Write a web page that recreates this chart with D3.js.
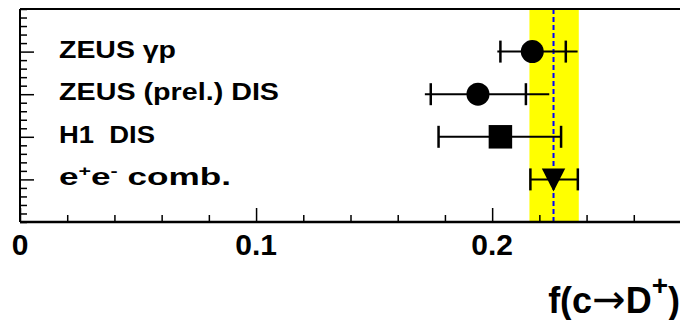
<!DOCTYPE html>
<html lang="en">
<head>
    <meta charset="utf-8">
    <title>f(c to D+) comparison</title>
    <script src="https://cdn.jsdelivr.net/npm/d3@7"></script>
    <style>
        body { margin: 0; background: #fff; }
        svg { display: block; }
        text { font-family: "Liberation Sans", Arial, sans-serif; font-weight: bold; fill: #000; white-space: pre; }
    </style>
</head>
<body>
<div id="chart"></div>
<script>
    // measurements, top to bottom
    var experiments = ["ZEUS γp", "ZEUS (prel.) DIS", "H1  DIS", "e+e- comb."];
    var rows = [4, 3, 2, 1];
    var central = [0.217, 0.194, 0.2035, 0.226];
    var statLo = [0.2035, 0.174, 0.1773, 0.2162];
    var statHi = [0.2312, 0.2143, 0.2292, 0.2363];
    var totLo = [0.2022, 0.1715, 0.1773, 0.2162];
    var totHi = [0.2362, 0.2242, 0.2292, 0.2363];
    var markers = ["circle", "circle", "square", "triangle"];
    // e+e- band
    var bandValue = 0.226;
    var bandLo = 0.2158;
    var bandHi = 0.2367;
    var xTicks = [0, 0.1, 0.2];

    var width = 680, height = 320;
    var padL = 20, padT = 9, padB = 222, padR = 681;

    var svg = d3.select("#chart").append("svg")
        .attr("width", width)
        .attr("height", height);

    var x = d3.scaleLinear().domain([0, 0.28]).range([padL, padR]);
    var y = d3.scaleLinear().domain([0, 5]).range([padB, padT]);

    // yellow band + dashed central line
    svg.append("rect")
        .attr("x", x(bandLo))
        .attr("y", y(5))
        .attr("width", x(bandHi) - x(bandLo))
        .attr("height", y(0) - y(5))
        .attr("fill", "#ffff00");
    svg.append("line")
        .attr("x1", x(bandValue)).attr("x2", x(bandValue))
        .attr("y1", y(5)).attr("y2", y(0))
        .attr("stroke", "#0000ff")
        .attr("stroke-width", 2)
        .attr("stroke-dasharray", "5,3");

    // frame lines
    svg.append("line")
        .attr("x1", padL).attr("x2", width)
        .attr("y1", padT).attr("y2", padT)
        .attr("stroke", "#000").attr("stroke-width", 2);
    svg.append("line")
        .attr("x1", padL).attr("x2", padL)
        .attr("y1", padT).attr("y2", padB)
        .attr("stroke", "#000").attr("stroke-width", 2);

    // x axis, ticks pointing up
    var xAxis = svg.append("g")
        .attr("transform", "translate(0," + padB + ")")
        .call(d3.axisTop(x).ticks(14).tickSize(7).tickFormat(""));
    xAxis.select(".domain").remove();
    xAxis.append("line")
        .attr("x1", padL).attr("x2", width)
        .attr("stroke", "#000").attr("stroke-width", 2.5);
    xAxis.selectAll(".tick line").attr("stroke-width", 1.5);
    xAxis.selectAll(".tick")
        .filter(function(d) { return xTicks.some(function(t) { return Math.abs(t - d) < 1e-9; }); })
        .select("line").attr("y2", -14);
    svg.selectAll("text.xlab")
        .data(xTicks)
        .enter().append("text")
        .attr("class", "xlab")
        .attr("x", function(d) { return x(d); })
        .attr("y", 255)
        .attr("text-anchor", "middle")
        .style("font-size", "30px")
        .text(function(d) { return d === 0 ? "0" : d3.format(".1f")(d); });

    // y axis, ticks pointing right
    var yAxis = svg.append("g")
        .attr("transform", "translate(" + padL + ",0)")
        .call(d3.axisRight(y).ticks(25).tickSize(7).tickFormat(""));
    yAxis.select(".domain").remove();
    yAxis.selectAll(".tick line").attr("stroke-width", 1.5);
    yAxis.selectAll(".tick")
        .filter(function(d) { return rows.indexOf(Math.round(d * 1000) / 1000) > -1; })
        .select("line").attr("x2", 14);

    // labels
    var labelLen = [117, 220, 96, 172];
    var labels = svg.selectAll("text.lab")
        .data(experiments)
        .enter().append("text")
        .attr("class", "lab")
        .attr("x", 59)
        .attr("y", function(d, i) { return y(rows[i]) + 6; })
        .attr("textLength", function(d, i) { return labelLen[i]; })
        .attr("lengthAdjust", "spacingAndGlyphs")
        .style("font-size", "23px");
    labels.each(function(d, i) {
        var t = d3.select(this);
        if (i === 3) {
            t.append("tspan").text("e");
            t.append("tspan").attr("dy", -9).style("font-size", "14px").text("+");
            t.append("tspan").attr("dy", 9).text("e");
            t.append("tspan").attr("dy", -9).style("font-size", "14px").text("-");
            t.append("tspan").attr("dy", 9).text(" comb.");
        } else {
            t.text(d);
        }
    });

    // error bars
    var cap = 11;
    var bars = svg.selectAll("g.bar")
        .data(experiments)
        .enter().append("g")
        .attr("class", "bar");
    bars.append("line")
        .attr("x1", function(d, i) { return x(totLo[i]); })
        .attr("x2", function(d, i) { return x(totHi[i]); })
        .attr("y1", function(d, i) { return y(rows[i]); })
        .attr("y2", function(d, i) { return y(rows[i]); })
        .attr("stroke", "#000").attr("stroke-width", 2);
    [statLo, statHi].forEach(function(arr) {
        bars.append("line")
            .attr("x1", function(d, i) { return x(arr[i]); })
            .attr("x2", function(d, i) { return x(arr[i]); })
            .attr("y1", function(d, i) { return y(rows[i]) - cap; })
            .attr("y2", function(d, i) { return y(rows[i]) + cap; })
            .attr("stroke", "#000").attr("stroke-width", 2.5);
    });

    // markers
    var sym = {
        circle: d3.symbol().type(d3.symbolCircle).size(Math.PI * 11.5 * 11.5),
        square: d3.symbol().type(d3.symbolSquare).size(23.5 * 23.5)
    };
    bars.append("path")
        .attr("transform", function(d, i) { return "translate(" + x(central[i]) + "," + y(rows[i]) + ")"; })
        .attr("d", function(d, i) {
            if (markers[i] === "triangle") return "M-11.7,-11L11.7,-11L0,12Z";
            return sym[markers[i]]();
        })
        .attr("fill", "#000");

    // axis title
    var title = svg.append("text")
        .attr("x", 680)
        .attr("y", 313)
        .attr("text-anchor", "end")
        .style("font-size", "36px");
    title.append("tspan").text("f(c");
    title.append("tspan").style("font-weight", "normal").style("font-family", "DejaVu Sans").style("font-size", "40px").text("→");
    title.append("tspan").text("D");
    title.append("tspan").attr("dy", -18).style("font-size", "28px").text("+");
    title.append("tspan").attr("dy", 18).text(")");
</script>
</body>
</html>
